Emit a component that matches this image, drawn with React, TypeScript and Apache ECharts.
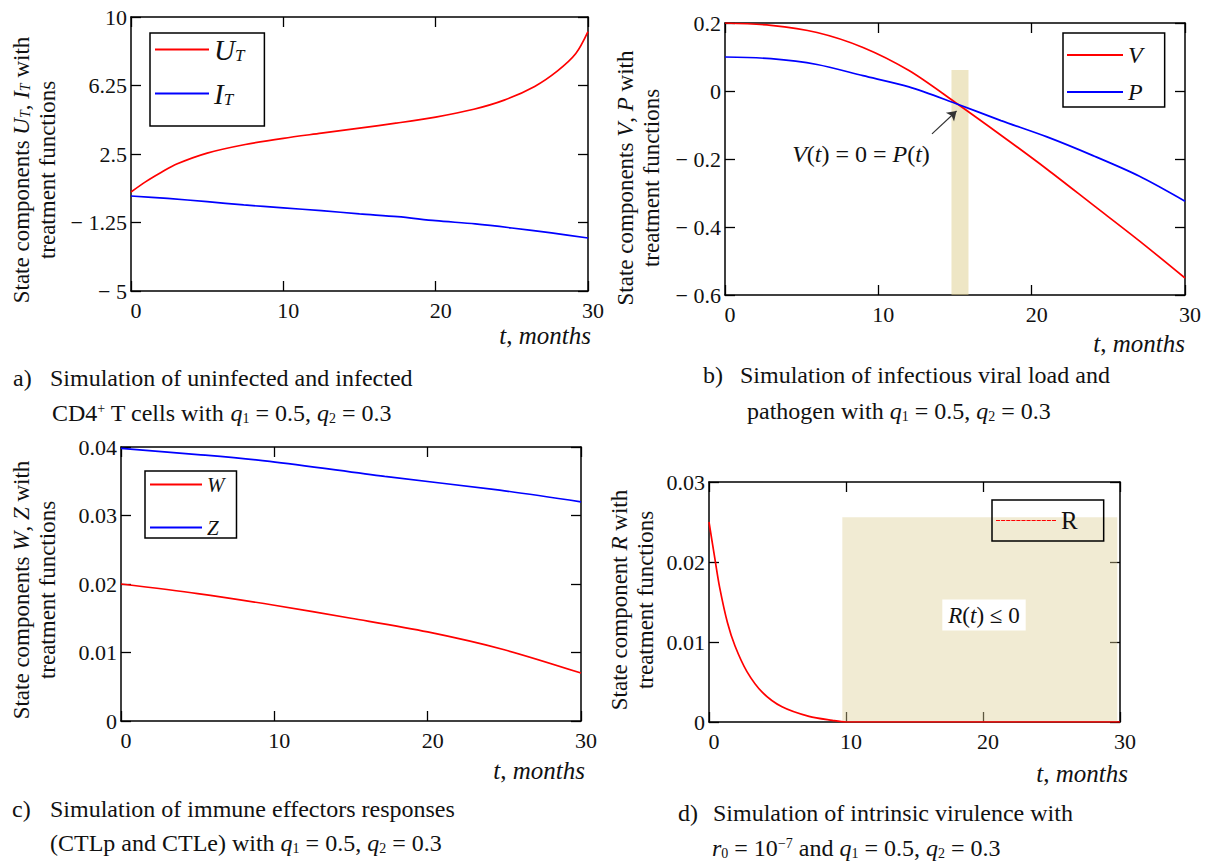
import React, { useEffect, useRef } from "react";
import * as echarts from "echarts";

// ---------- data ----------
// a) uninfected / infected CD4+ T cells
const tU = [0, 1, 2, 3, 5, 7.5, 10, 12.5, 15, 17.5, 20, 22.5, 24.5, 26.5, 28, 29.2, 30];
const uT = [0.42, 1.0, 1.5, 1.95, 2.55, 3.02, 3.36, 3.64, 3.92, 4.2, 4.52, 4.95, 5.45, 6.2, 7.05, 8.0, 9.2];
const tI = [0, 2.4, 5, 7.4, 10, 12.5, 15, 17.5, 20, 22.6, 25, 27.6, 30];
const iT = [0.2, 0.07, -0.11, -0.29, -0.45, -0.6, -0.78, -0.93, -1.15, -1.33, -1.55, -1.82, -2.1];
// b) viral load V and pathogen P
const tV = [0, 3, 6, 9, 12, 15, 18, 21, 24, 27, 30];
const vV = [0.2, 0.193, 0.172, 0.128, 0.06, -0.033, -0.13, -0.23, -0.335, -0.44, -0.55];
const tP = [0, 3, 6, 9, 12, 15, 18, 21, 24, 27, 30];
const pP = [0.1, 0.095, 0.078, 0.045, 0.012, -0.036, -0.087, -0.135, -0.19, -0.25, -0.324];
// c) immune effectors W and Z
const tW = [0, 5, 10, 15, 20, 25, 30];
const wW = [0.02, 0.0186, 0.0169, 0.015, 0.013, 0.0104, 0.007];
const tZ = [0, 5, 9.7, 17.2, 24.7, 30];
const zZ = [0.0398, 0.0389, 0.0379, 0.0357, 0.0337, 0.032];
// d) intrinsic virulence R
const tR = [0, 0.44, 0.78, 1.35, 1.9, 2.77, 3.9, 5.33, 7.3, 9, 10, 20, 30];
const rR = [0.025, 0.0203, 0.0168, 0.0124, 0.0095, 0.0063, 0.0037, 0.0019, 0.0007, 0.0002, 0, 0, 0];

// tick values
const xTicks = [0, 10, 20, 30];
const yTicksA = [-5, -1.25, 2.5, 6.25, 10];
const yTicksB = [-0.6, -0.4, -0.2, 0, 0.2];
const yTicksC = [0, 0.01, 0.02, 0.03, 0.04];
const yTicksD = [0, 0.01, 0.02, 0.03];

// shaded regions / annotation arrow (data coordinates)
const bandB = [14.77, 15.88, 0.062, -0.6];
const arrowB = [13.5, -0.126, 15.1, -0.059];
const bandD = [9.73, 29.8, 0.0256, -0.0006];

// ---------- style ----------
const SERIF = "'Liberation Serif', 'Times New Roman', Times, serif";
const TXT = "#111";
const RED = "#ff0000";
const BLUE = "#0000ff";

const pairs = (xs: number[], ys: number[]) => xs.map((x, i) => [x, ys[i]]);
const fmt = (v: number) => (v < 0 ? "\u2212 " + String(Math.abs(v)) : String(v));

// dashed legend glyph for R
let dashPath = "path://";
for (let k = 0; k < 12; k++) dashPath += `M${k * 5},0h4v1h-4z`;

function rich(fs: number) {
  const s = Math.round(fs * 0.6);
  return {
    n: { fontFamily: SERIF, fontSize: fs, color: TXT },
    i: { fontFamily: SERIF, fontSize: fs, fontStyle: "italic", color: TXT },
    sb: { fontFamily: SERIF, fontSize: s, lineHeight: s, fontStyle: "italic", color: TXT, verticalAlign: "bottom" },
    sbn: { fontFamily: SERIF, fontSize: s, lineHeight: s, color: TXT, verticalAlign: "bottom" },
    sp: { fontFamily: SERIF, fontSize: s, lineHeight: s, color: TXT, verticalAlign: "top" },
  };
}

const panels = [
  { grid: { left: 131, top: 17, width: 457, height: 274 }, min: -5, max: 10, ticks: yTicksA },
  { grid: { left: 725, top: 23, width: 460, height: 272 }, min: -0.6, max: 0.2, ticks: yTicksB },
  { grid: { left: 121, top: 447, width: 460, height: 274 }, min: 0, max: 0.04, ticks: yTicksC },
  { grid: { left: 709, top: 482, width: 411, height: 240 }, min: 0, max: 0.03, ticks: yTicksD },
];

function buildOption() {
  const axisLine = { show: true, onZero: false, lineStyle: { color: "#000", width: 1.5 } };
  const tickStyle = { color: "#000", width: 1.3 };
  const label = { fontFamily: SERIF, fontSize: 22, color: TXT };
  const xAxis: any[] = [];
  const yAxis: any[] = [];
  panels.forEach((p, gi) => {
    const xb = {
      gridIndex: gi, type: "value", min: 0, max: 30,
      splitLine: { show: false }, axisLine,
      axisTick: { show: true, inside: true, length: 10, customValues: xTicks, lineStyle: tickStyle },
    };
    xAxis.push({ ...xb, position: "bottom", axisLabel: { ...label, customValues: xTicks, margin: 8, padding: [0, 0, 0, 10] } });
    xAxis.push({ ...xb, position: "top", axisLabel: { show: false } });
    const yb = {
      gridIndex: gi, type: "value", min: p.min, max: p.max,
      splitLine: { show: false }, axisLine,
      axisTick: { show: true, inside: true, length: 10, customValues: p.ticks, lineStyle: tickStyle },
    };
    yAxis.push({ ...yb, position: "left", axisLabel: { ...label, customValues: p.ticks, margin: 4, formatter: fmt } });
    yAxis.push({ ...yb, position: "right", axisLabel: { show: false } });
  });

  const line = (name: string, gi: number, data: number[][], color: string) => ({
    name, type: "line", xAxisIndex: gi * 2, yAxisIndex: gi * 2, data,
    smooth: 0.3, symbol: "none", showSymbol: false, z: 3,
    lineStyle: { color, width: 1.7 }, itemStyle: { color },
  });

  const series: any[] = [
    {
      name: "bandB", type: "line", xAxisIndex: 2, yAxisIndex: 2, data: [], z: 1, silent: true,
      markArea: {
        silent: true, itemStyle: { color: "rgba(222,206,140,0.5)" },
        data: [[{ coord: [bandB[0], bandB[2]] }, { coord: [bandB[1], bandB[3]] }]],
      },
      markLine: {
        silent: true, symbol: ["none", "arrow"], symbolSize: 9,
        lineStyle: { color: "#333", width: 1.2, type: "solid" }, label: { show: false },
        data: [[{ coord: [arrowB[0], arrowB[1]] }, { coord: [arrowB[2], arrowB[3]] }]],
      },
    },
    {
      name: "bandD", type: "line", xAxisIndex: 6, yAxisIndex: 6, data: [], z: 1, silent: true,
      markArea: {
        silent: true, itemStyle: { color: "rgba(222,208,150,0.42)" },
        data: [[{ coord: [bandD[0], bandD[2]] }, { coord: [bandD[1], bandD[3]] }]],
      },
    },
    line("U_T", 0, pairs(tU, uT), RED),
    line("I_T", 0, pairs(tI, iT), BLUE),
    line("V", 1, pairs(tV, vV), RED),
    line("P", 1, pairs(tP, pP), BLUE),
    line("W", 2, pairs(tW, wW), RED),
    line("Z", 2, pairs(tZ, zZ), BLUE),
    line("R", 3, pairs(tR, rR), RED),
  ];

  const legendBase = (fs: number) => ({
    orient: "vertical", selectedMode: false, itemHeight: 2, icon: "rect",
    borderColor: "#000", borderWidth: 1.5, borderRadius: 0,
    textStyle: { fontFamily: SERIF, fontSize: fs, color: TXT, rich: rich(fs) },
  });
  const legFmt = (n: string) => {
    if (n === "U_T") return "{i|U}{sb|T}";
    if (n === "I_T") return "{i|I}{sb|T}";
    if (n === "R") return "{n|R}";
    return "{i|" + n + "}";
  };
  const legend = [
    { ...legendBase(29), data: ["U_T", "I_T"], left: 150, top: 33, itemWidth: 54, itemGap: 15, padding: [2, 20, 18, 5], backgroundColor: "#fff", formatter: legFmt },
    { ...legendBase(24), data: ["V", "P"], left: 1063, top: 33, itemWidth: 56, itemGap: 13, padding: [10, 22, 3, 4], backgroundColor: "#fff", formatter: legFmt },
    { ...legendBase(21), data: ["W", "Z"], left: 145, top: 471, itemWidth: 52, itemGap: 22, padding: [3, 12, 0, 5], backgroundColor: "#fff", formatter: legFmt },
    { ...legendBase(25), data: [{ name: "R", icon: dashPath }], left: 992, top: 500, itemWidth: 60, itemGap: 8, padding: [8, 26, 8, 4], formatter: legFmt },
  ];

  const text = (x: number, y: number, t: string, fs: number, extra: any = {}) => ({
    type: "text", x, y, silent: true, z: 50,
    style: {
      text: t, fontFamily: SERIF, fontSize: fs, fill: TXT, rich: rich(fs),
      align: "left", verticalAlign: "middle", ...extra.style,
    },
    ...(extra.el || {}),
  });
  const vtitle = (x: number, y: number, t: string) =>
    text(x, y, t, 23, { style: { align: "center" }, el: { rotation: Math.PI / 2 } });
  const q = "{i|q}{sbn|1} = 0.5, {i|q}{sbn|2} = 0.3";
  const CAP = 24;

  const graphic = [
    // y-axis titles
    vtitle(21, 170, "State components {i|U}{sb|T}, {i|I}{sb|T} with"),
    vtitle(47, 170, "treatment functions"),
    vtitle(625, 178, "State components {i|V}, {i|P} with"),
    vtitle(651, 178, "treatment functions"),
    vtitle(21, 590, "State components {i|W}, {i|Z} with"),
    vtitle(47, 590, "treatment functions"),
    vtitle(619, 600, "State component {i|R} with"),
    vtitle(645, 600, "treatment functions"),
    // x-axis titles
    text(591, 335, "{i|t}, {i|months}", 25, { style: { align: "right" } }),
    text(1185, 343, "{i|t}, {i|months}", 25, { style: { align: "right" } }),
    text(585, 770, "{i|t}, {i|months}", 25, { style: { align: "right" } }),
    text(1128, 773, "{i|t}, {i|months}", 25, { style: { align: "right" } }),
    // annotations
    text(861, 154, "{i|V}({i|t}) = 0 = {i|P}({i|t})", 24, { style: { align: "center" } }),
    text(984, 615, "{i|R}({i|t}) \u2264 0", 23, { style: { align: "center", backgroundColor: "#fff", padding: [4, 6] } }),
    // captions
    text(13, 378, "a)", CAP),
    text(50, 378, "Simulation of uninfected and infected", CAP),
    text(52, 413, "CD4{sp|+} T cells with " + q, CAP),
    text(703, 375, "b)", CAP),
    text(740, 375, "Simulation of infectious viral load and", CAP),
    text(747, 411, "pathogen with " + q, CAP),
    text(12, 809, "c)", CAP),
    text(50, 809, "Simulation of immune effectors responses", CAP),
    text(50, 843, "(CTLp and CTLe) with " + q, CAP),
    text(678, 813, "d)", CAP),
    text(713, 813, "Simulation of intrinsic virulence with", CAP),
    text(712, 848, "{i|r}{sbn|0} = 10{sp|\u22127} and " + q, CAP),
  ];

  return {
    animation: false,
    backgroundColor: "#fff",
    grid: panels.map((p) => ({ ...p.grid, show: false, containLabel: false })),
    xAxis, yAxis, series, legend, graphic,
  };
}

export default function App() {
  const ref = useRef<HTMLDivElement>(null);
  useEffect(() => {
    if (!ref.current) return;
    const chart = echarts.init(ref.current, undefined, { renderer: "svg" });
    chart.setOption(buildOption() as any);
    return () => chart.dispose();
  }, []);
  return (
    <div
      ref={ref}
      style={{ position: "absolute", left: 0, top: 0, width: 1209, height: 861, background: "#fff" }}
    />
  );
}
